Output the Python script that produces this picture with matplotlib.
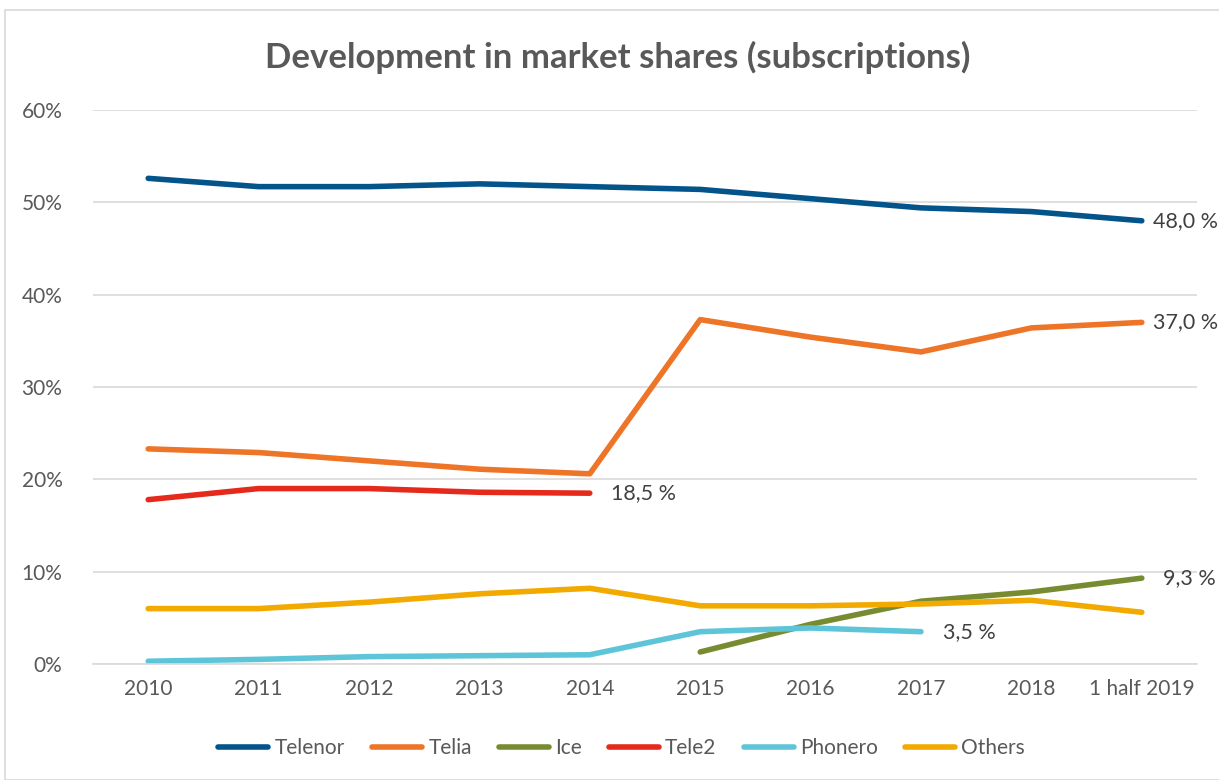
import matplotlib
matplotlib.use("Agg")
import matplotlib.pyplot as plt
from matplotlib.patches import Rectangle
from matplotlib.ticker import FuncFormatter

years = ['2010', '2011', '2012', '2013', '2014', '2015', '2016', '2017', '2018', '1 half 2019']

telenor = [52.6, 51.7, 51.7, 52.0, 51.7, 51.4, 50.4, 49.4, 49.0, 48.0]
telia = [23.3, 22.9, 22.0, 21.1, 20.6, 37.3, 35.4, 33.8, 36.4, 37.0]
ice = [None, None, None, None, None, 1.3, 4.3, 6.8, 7.8, 9.3]
tele2 = [17.8, 19.0, 19.0, 18.6, 18.5, None, None, None, None, None]
phonero = [0.3, 0.5, 0.8, 0.9, 1.0, 3.5, 3.9, 3.5, None, None]
others = [6.0, 6.0, 6.7, 7.6, 8.2, 6.3, 6.3, 6.5, 6.9, 5.6]

series = [
    ('Telenor', telenor, '#02548a'),
    ('Telia', telia, '#ee7428'),
    ('Ice', ice, '#778b31'),
    ('Tele2', tele2, '#e52a1c'),
    ('Phonero', phonero, '#5ec5d9'),
    ('Others', others, '#f2aa00'),
]
# gap (points) between the last point and its value label
label_gap = {'Telenor': 8, 'Telia': 8, 'Ice': 15, 'Tele2': 15, 'Phonero': 16}

plt.rcParams['font.family'] = ['Lato', 'DejaVu Sans']
text_col = '#595959'

fig = plt.figure(figsize=(12.19, 7.80), dpi=100)
fig.patches.append(Rectangle((5 / 1219, 0.0), 1.0, 1 - 10 / 780, transform=fig.transFigure,
                             fill=False, edgecolor='#d9d9d9', linewidth=1.2))
ax = fig.add_axes([93 / 1219, 1 - 664 / 780, (1197 - 93) / 1219, (664 - 110) / 780])

x = list(range(len(years)))
for name, vals, col in series:
    pts = [(i, v) for i, v in zip(x, vals) if v is not None]
    xs = [p[0] for p in pts]
    ys = [p[1] / 100 for p in pts]
    ax.plot(xs, ys, color=col, linewidth=4, solid_capstyle='round', solid_joinstyle='round', label=name)
    # label at the last point
    if name in label_gap:
        ax.annotate(f"{vals[xs[-1]]:.1f} %".replace('.', ','), (xs[-1], ys[-1]),
                    xytext=(label_gap[name], 0), textcoords='offset points', va='center', ha='left',
                    fontsize=15.5, color='#404040', annotation_clip=False)

ax.set_xlim(-0.5, len(years) - 0.5)
ax.set_ylim(0, 0.6)
ax.set_yticks([0, 0.1, 0.2, 0.3, 0.4, 0.5, 0.6])
ax.yaxis.set_major_formatter(FuncFormatter(lambda v, p: f"{v * 100:.0f}%"))
ax.set_xticks(x)
ax.set_xticklabels(years)
ax.grid(axis='y', color='#d9d9d9', linewidth=1.2)
ax.set_axisbelow(True)
for s in ['top', 'right', 'left']:
    ax.spines[s].set_visible(False)
ax.spines['bottom'].set_color('#d9d9d9')
ax.spines['bottom'].set_linewidth(1.2)
ax.tick_params(axis='both', length=0, labelsize=15, labelcolor=text_col)
ax.tick_params(axis='y', pad=22)
ax.tick_params(axis='x', pad=11)

fig.text(0.507, 1 - 57 / 780, 'Development in market shares (subscriptions)', ha='center', va='center',
         fontsize=25, fontweight='bold', color=text_col)

fig.legend(loc='center', bbox_to_anchor=(0.51, 1 - 748 / 780), ncol=6, frameon=False,
           fontsize=15, labelcolor=text_col, handlelength=2.4, handletextpad=0.3, columnspacing=1.3)

fig.savefig('out.png', dpi=100)
